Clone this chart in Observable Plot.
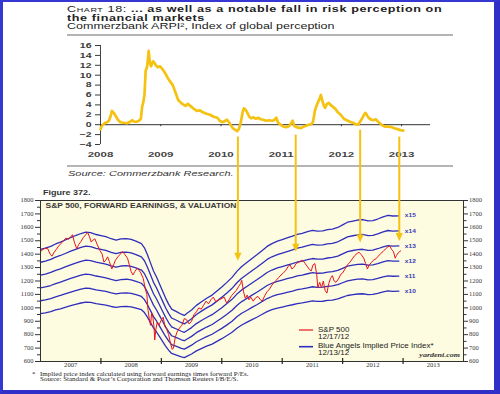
<!DOCTYPE html>
<html><head><meta charset="utf-8">
<script src="https://cdn.jsdelivr.net/npm/d3@7"></script>
<script src="https://cdn.jsdelivr.net/npm/@observablehq/plot@0.6"></script>
<style>
html,body{margin:0;padding:0;background:#fff}
#wrap{position:relative;width:500px;height:394px;overflow:hidden;background:#fff}
.t{position:absolute;white-space:nowrap;transform-origin:0 0;font-family:"Liberation Sans",Arial,sans-serif;line-height:1}
.pl{position:absolute;left:0}
</style></head>
<body><div id="wrap"></div>
<script>
// ---- Commerzbank ARPI (top chart) ----
const arpiT = [2008.00,2008.02,2008.05,2008.08,2008.11,2008.14,2008.17,2008.19,2008.22,2008.25,2008.29,2008.33,2008.38,2008.44,2008.49,2008.53,2008.56,2008.60,2008.64,2008.67,2008.69,2008.71,2008.73,2008.75,2008.77,2008.78,2008.80,2008.82,2008.84,2008.87,2008.89,2008.92,2008.95,2008.99,2009.03,2009.07,2009.11,2009.14,2009.17,2009.20,2009.23,2009.26,2009.29,2009.33,2009.37,2009.41,2009.45,2009.50,2009.55,2009.60,2009.65,2009.70,2009.76,2009.82,2009.88,2009.94,2009.98,2010.02,2010.06,2010.10,2010.14,2010.19,2010.23,2010.27,2010.30,2010.33,2010.36,2010.38,2010.41,2010.44,2010.47,2010.50,2010.54,2010.58,2010.62,2010.66,2010.70,2010.75,2010.80,2010.85,2010.88,2010.92,2010.95,2010.99,2011.04,2011.08,2011.13,2011.17,2011.19,2011.22,2011.25,2011.29,2011.33,2011.37,2011.41,2011.46,2011.50,2011.53,2011.56,2011.58,2011.61,2011.63,2011.66,2011.68,2011.71,2011.73,2011.76,2011.79,2011.82,2011.86,2011.90,2011.94,2011.99,2012.04,2012.09,2012.14,2012.19,2012.24,2012.28,2012.31,2012.34,2012.37,2012.40,2012.43,2012.46,2012.50,2012.53,2012.57,2012.61,2012.65,2012.69,2012.73,2012.78,2012.84,2012.88,2012.93,2012.98,2013.03];
const arpiV = [-0.9,-0.3,0.1,0.4,0.5,0.8,1.8,2.8,2.4,1.8,1.0,0.5,0.4,0.3,0.6,0.9,0.6,0.6,0.8,1.2,3.5,4.5,6,10.9,11.5,12.3,14.9,12.5,11.8,12.8,12.6,12.0,11.6,11.8,11.2,10.5,9.6,9.0,8.5,8.0,7.0,6.0,5.0,4.5,4.1,3.8,4.2,3.7,3.2,2.8,2.9,2.5,2.2,2.0,1.6,1.4,0.8,0.5,0.7,1.0,0.4,-0.6,-1.0,-1.3,-0.8,0.5,2.5,3.3,3.0,2.4,1.6,1.3,1.5,1.2,1.4,1.1,1.0,0.8,0.9,0.8,0.9,1.4,0.4,0,-0.4,-0.5,-0.3,0.4,0.8,-0.3,-0.5,-0.6,-0.7,-0.4,-0.2,0.0,0.1,0.6,2.8,3.6,4.5,5.0,6.0,5.0,3.8,3.4,4.2,4.4,4.0,3.6,3.2,2.5,2.0,1.2,0.9,0.6,0.4,0.1,0.0,0.6,1.2,1.9,2.4,1.8,1.3,1.0,0.9,1.1,0.6,0.2,-0.2,-0.4,-0.4,-0.5,-0.7,-0.9,-1.1,-1.2];
const arpiTicks = [-4,-2,0,2,4,6,8,10,12,14,16];
const topYears = [2008,2009,2010,2011,2012,2013];

// ---- S&P 500 (bottom chart) ----
const spT = [2007.00,2007.04,2007.08,2007.12,2007.16,2007.19,2007.22,2007.26,2007.30,2007.34,2007.38,2007.42,2007.46,2007.50,2007.53,2007.56,2007.60,2007.63,2007.67,2007.71,2007.75,2007.78,2007.81,2007.84,2007.87,2007.90,2007.94,2007.98,2008.02,2008.05,2008.08,2008.11,2008.14,2008.18,2008.21,2008.24,2008.28,2008.32,2008.36,2008.40,2008.44,2008.47,2008.50,2008.53,2008.56,2008.60,2008.63,2008.66,2008.70,2008.73,2008.76,2008.78,2008.80,2008.82,2008.84,2008.86,2008.88,2008.89,2008.91,2008.93,2008.96,2009.00,2009.03,2009.06,2009.09,2009.12,2009.15,2009.18,2009.20,2009.23,2009.26,2009.30,2009.34,2009.38,2009.42,2009.46,2009.50,2009.54,2009.58,2009.62,2009.66,2009.70,2009.74,2009.78,2009.82,2009.86,2009.90,2009.95,2010.00,2010.04,2010.08,2010.12,2010.16,2010.20,2010.24,2010.28,2010.31,2010.33,2010.36,2010.39,2010.42,2010.45,2010.48,2010.52,2010.56,2010.60,2010.64,2010.67,2010.71,2010.75,2010.79,2010.83,2010.87,2010.90,2010.94,2010.98,2011.02,2011.06,2011.10,2011.13,2011.16,2011.19,2011.23,2011.27,2011.31,2011.34,2011.38,2011.42,2011.45,2011.48,2011.51,2011.54,2011.57,2011.59,2011.62,2011.65,2011.68,2011.71,2011.74,2011.77,2011.80,2011.83,2011.86,2011.89,2011.93,2011.97,2012.00,2012.04,2012.08,2012.12,2012.16,2012.20,2012.24,2012.27,2012.31,2012.35,2012.38,2012.41,2012.44,2012.47,2012.51,2012.55,2012.59,2012.63,2012.67,2012.71,2012.75,2012.78,2012.81,2012.84,2012.87,2012.89,2012.92,2012.96];
const spV = [1418,1435,1445,1440,1400,1385,1410,1435,1460,1480,1500,1520,1510,1530,1545,1490,1440,1470,1495,1525,1545,1562,1530,1490,1505,1515,1470,1430,1400,1340,1355,1380,1345,1290,1320,1355,1380,1400,1420,1395,1370,1320,1270,1245,1270,1295,1280,1260,1220,1150,1100,980,920,870,960,930,850,760,840,890,870,910,930,860,840,800,740,690,700,780,820,850,870,920,910,880,900,950,970,1000,990,1020,1050,1030,1060,1080,1045,1060,1070,1080,1035,1060,1090,1110,1130,1160,1180,1205,1120,1070,1095,1060,1080,1050,1075,1085,1060,1050,1090,1120,1140,1170,1190,1205,1225,1245,1260,1280,1310,1320,1290,1300,1330,1340,1350,1355,1330,1305,1285,1275,1320,1330,1250,1150,1190,1150,1200,1130,1110,1180,1220,1240,1200,1190,1215,1250,1260,1290,1320,1340,1365,1390,1405,1415,1395,1370,1330,1290,1320,1335,1355,1365,1385,1405,1420,1440,1455,1460,1435,1420,1370,1390,1410,1425];
// forward earnings behind the "Blue Angels" (multiples x10..x15)
const epsT = [2007.00,2007.08,2007.17,2007.25,2007.33,2007.42,2007.50,2007.58,2007.67,2007.75,2007.83,2007.92,2008.00,2008.08,2008.17,2008.25,2008.33,2008.42,2008.50,2008.58,2008.67,2008.72,2008.77,2008.82,2008.87,2008.92,2008.97,2009.02,2009.07,2009.12,2009.17,2009.25,2009.33,2009.38,2009.42,2009.50,2009.58,2009.67,2009.75,2009.84,2009.92,2010.00,2010.08,2010.17,2010.25,2010.33,2010.42,2010.50,2010.58,2010.67,2010.75,2010.83,2010.92,2011.00,2011.08,2011.17,2011.25,2011.33,2011.42,2011.50,2011.58,2011.67,2011.75,2011.83,2011.92,2012.00,2012.08,2012.17,2012.25,2012.33,2012.42,2012.50,2012.58,2012.67,2012.75,2012.83,2012.93];
const epsV = [95.7,96.3,97.2,98.4,99.3,100.5,101.6,102.6,103.6,104.3,104.0,103.1,102.6,102.0,101.0,100.3,100.9,101.1,100.7,99.8,98.6,96.5,93,89,85,82,78.5,75,71.5,68.5,66,64.8,63.5,62.9,63.8,65.6,67.9,69.8,71.4,73,75,77,79.2,81.8,84.8,87.2,89.3,91.2,93,95.2,97.2,98.6,99.8,100.6,101.4,102.3,103.2,103.7,104.5,105.2,104.8,104.9,105.5,105.8,106.6,107.9,109.2,109.8,110.3,110.5,109.9,110.0,110.8,111.9,112.6,112.3,112.4];
const multiples = [10,11,12,13,14,15];
const spTicks = [600,700,800,900,1000,1100,1200,1300,1400,1500,1600,1700,1800];
const spMinor = [650,750,850,950,1050,1150,1250,1350,1450,1550,1650,1750];
const botYears = [2007,2008,2009,2010,2011,2012,2013];
const botBounds = [2008,2009,2010,2011,2012,2013];

// ---- arrows linking the two charts ----
const arrowT = [2010.29, 2011.25, 2012.32, 2012.97];
const arrowFrom = [-2.5, -2.1, -1.1, -2.5];
const arrowTo = [1348, 1414, 1484, 1494];

const YEL = "#f5c211", BLUE = "#2e2ebd", RED = "#e8141c";
const TOP_Y = 38, BOT_Y = 190;

function squish(svg, s) {
  d3.select(svg).selectAll("text").each(function () {
    const tr = this.getAttribute("transform");
    if (tr != null) this.setAttribute("transform", tr + ` scale(1,${s})`);
  });
}

const wrap = document.getElementById("wrap");
function addText(html, left, top, size, s, extra = "") {
  const d = document.createElement("div");
  d.className = "t";
  d.style.cssText = `left:${left}px;top:${top}px;font-size:${size}px;transform:scaleY(${s});${extra}`;
  d.innerHTML = html;
  wrap.appendChild(d);
  return d;
}

// ---------- top chart ----------
const arpi = arpiT.map((t, i) => ({t, v: arpiV[i]}));
const topPlot = Plot.plot({
  width: 500, height: 130,
  marginLeft: 100, marginRight: 70, marginTop: 7, marginBottom: 24,
  x: {domain: [2008, 2013.48]},
  y: {domain: [-4, 16]},
  style: {background: "transparent", overflow: "visible", fontFamily: "Liberation Sans, Arial, sans-serif"},
  marks: [
    Plot.ruleX([2008], {y1: -4, y2: 16, stroke: "#444"}),
    Plot.axisY(arpiTicks, {anchor: "left", tickSize: 5, tickPadding: 4, fontSize: 10.5, fontWeight: "bold", color: "#3a3a3a", label: null}),
    Plot.ruleY([0], {stroke: "#333", strokeWidth: 1}),
    Plot.ruleX(topYears, {y1: 0, y2: -0.4, stroke: "#333"}),
    Plot.axisX(topYears, {tickSize: 0, tickPadding: 7, tickFormat: d => String(d), fontSize: 11.5, fontWeight: "bold", color: "#444", label: null}),
    Plot.line(arpi, {x: "t", y: "v", stroke: YEL, strokeWidth: 2.7, strokeLinejoin: "round"})
  ]
});
squish(topPlot, 0.7);
topPlot.classList.add("pl");
topPlot.style.top = TOP_Y + "px";
wrap.appendChild(topPlot);

// ---------- bottom chart ----------
const sp = spT.map((t, i) => ({t, v: spV[i]}));
const bands = multiples.flatMap(k => epsT.map((t, i) => ({k, t, v: epsV[i] * k})));
const serif = "Liberation Serif, Times New Roman, serif";
const botPlot = Plot.plot({
  width: 500, height: 185,
  marginLeft: 40, marginRight: 37, marginTop: 10, marginBottom: 14,
  x: {domain: [2007, 2014]},
  y: {domain: [600, 1800]},
  style: {background: "transparent", overflow: "visible", fontFamily: "Liberation Sans, Arial, sans-serif"},
  marks: [
    Plot.frame({fill: "#fdfbe0", stroke: "none"}),
    Plot.line(bands, {x: "t", y: "v", z: "k", stroke: BLUE, strokeWidth: 1.3}),
    Plot.text(bands, Plot.selectLast({x: "t", y: "v", z: "k", text: d => "x" + d.k, dx: 6, textAnchor: "start", fill: "#3b3bb8", fontWeight: "bold", fontSize: 6.6})),
    Plot.line(sp, {x: "t", y: "v", stroke: RED, strokeWidth: 1}),
    Plot.frame({stroke: "#333", strokeWidth: 1}),
    Plot.axisY(spTicks, {anchor: "left", tickSize: 5, tickPadding: 2, tickFormat: d => String(d), fontSize: 6.5, fontFamily: serif, color: "#333", label: null}),
    Plot.axisY(spMinor, {anchor: "left", tickSize: 3, tickFormat: () => "", color: "#333", label: null}),
    Plot.axisY(spTicks, {anchor: "right", tickSize: 4, tickPadding: 1.5, tickFormat: d => String(d), fontSize: 6.5, fontFamily: serif, color: "#333", label: null}),
    Plot.axisY(spMinor, {anchor: "right", tickSize: 2.5, tickFormat: () => "", color: "#333", label: null}),
    Plot.axisX(botBounds, {tickSize: 3, tickFormat: () => "", color: "#222", strokeWidth: 1.2, label: null}),
    Plot.ruleX(botBounds, {y1: 600, y2: 622, stroke: "#222", strokeWidth: 1.2}),
    Plot.axisX(botYears.map(y => y + 0.5), {tickSize: 0, tickPadding: 1.5, tickFormat: d => String(Math.floor(d)), fontSize: 6.6, fontFamily: serif, color: "#333", label: null}),
    Plot.text(["S&P 500, FORWARD EARNINGS, & VALUATION"], {text: d => d, frameAnchor: "top-left", dx: 5, dy: 3, lineAnchor: "top", textAnchor: "start", fontSize: 8.5, fontWeight: "bold", fill: "#3a3a3a"})
  ]
});
squish(botPlot, 0.8);
botPlot.classList.add("pl");
botPlot.style.top = BOT_Y + "px";
wrap.appendChild(botPlot);

// ---------- texts ----------
addText('<span style="font-variant:small-caps">Chart 18:</span> <b>... as well as a notable fall in risk perception on</b>', 67, 4.8, 12.6, 0.68, "color:#222;letter-spacing:0.6px");
addText('<b>the financial markets</b>', 67, 13.5, 12.6, 0.68, "color:#222;letter-spacing:0.6px");
addText('Commerzbank ARPI², Index of global perception', 67, 22.3, 12.5, 0.68, "color:#222");
const r1 = document.createElement("div"); r1.style.cssText = "position:absolute;left:67px;top:33.5px;width:386px;height:2px;background:#b4b4b4"; wrap.appendChild(r1);
const r2 = document.createElement("div"); r2.style.cssText = "position:absolute;left:67px;top:165px;width:386px;height:2px;background:#b4b4b4"; wrap.appendChild(r2);
addText('<i>Source: Commerzbank Research.</i>', 68, 169.5, 11, 0.7, "color:#333");
addText('<b>Figure 372.</b>', 43, 190.3, 9, 0.75, "color:#333");

// legend
const leg = document.createElementNS("http://www.w3.org/2000/svg", "svg");
leg.setAttribute("width", 500); leg.setAttribute("height", 394);
leg.style.cssText = "position:absolute;left:0;top:0;pointer-events:none";
leg.innerHTML = `<line x1="299" x2="313" y1="330" y2="330" stroke="${RED}" stroke-width="1.2"/><line x1="299" x2="313" y1="346.7" y2="346.7" stroke="${BLUE}" stroke-width="1.6"/>`;
wrap.appendChild(leg);
addText('S&amp;P 500', 318, 327, 8, 0.82, "color:#222");
addText('12/17/12', 318, 334.2, 8, 0.82, "color:#222");
addText('Blue Angels Implied Price Index*', 318, 343.4, 8, 0.82, "color:#222");
addText('12/13/12', 318, 350, 8, 0.82, "color:#222");
const y = addText('<b><i>yardeni.com</i></b>', 0, 352.1, 8, 0.8, "color:#333;font-family:'Liberation Serif',serif");
y.style.left = ""; y.style.right = "40px"; y.style.transformOrigin = "100% 0";
addText('*', 32, 372, 7, 0.8, "color:#222;font-family:'Liberation Serif',serif");
addText('Implied price index calculated using forward earnings times forward P/Es.', 40, 372, 7, 0.8, "color:#222;font-family:'Liberation Serif',serif");
addText('Source: Standard &amp; Poor\u2019s Corporation and Thomson Reuters I/B/E/S.', 40, 377.4, 7, 0.8, "color:#222;font-family:'Liberation Serif',serif");

// ---------- arrows ----------
const ov = d3.select(wrap).append("svg").attr("width", 500).attr("height", 394)
  .style("position", "absolute").style("left", 0).style("top", 0).style("pointer-events", "none");
const tx = topPlot.scale("x"), ty = topPlot.scale("y"), by = botPlot.scale("y");
arrowT.forEach((t, i) => {
  const x = tx.apply(t);
  const y1 = TOP_Y + ty.apply(arrowFrom[i]);
  const y2 = BOT_Y + by.apply(arrowTo[i]);
  ov.append("line").attr("x1", x).attr("x2", x).attr("y1", y1).attr("y2", y2 - 6)
    .attr("stroke", YEL).attr("stroke-width", 2);
  ov.append("path").attr("d", `M${x - 3.6},${y2 - 8}L${x + 3.6},${y2 - 8}L${x},${y2}Z`).attr("fill", YEL);
});

// ---------- frame ----------
const fr = document.createElement("div");
fr.style.cssText = "position:absolute;left:0;top:0;width:500px;height:394px;box-sizing:border-box;border-left:3px solid #3636d2;border-top:2px solid #3636d2;border-right:6px solid #3030c8;border-bottom:4px solid #3030c8;pointer-events:none";
wrap.appendChild(fr);
</script>
</body></html>
